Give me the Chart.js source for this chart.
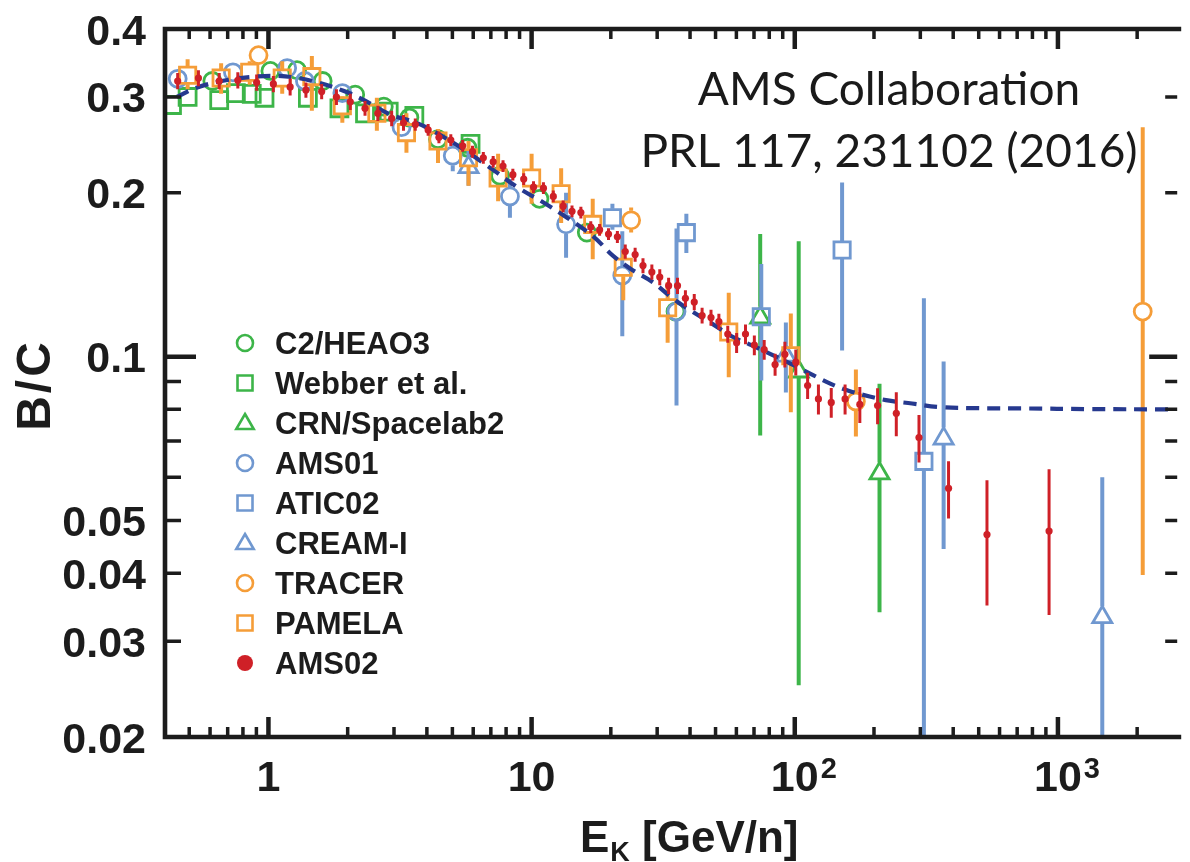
<!DOCTYPE html>
<html>
<head>
<meta charset="utf-8">
<title>B/C ratio</title>
<script src="https://cdn.jsdelivr.net/npm/chart.js"></script>
<style>
  html, body { margin: 0; padding: 0; background: #fff; overflow: hidden; }
  #wrap { width: 1190px; height: 862px; }
</style>
</head>
<body>
<div id="wrap"><canvas id="bcChart" width="1190" height="862"></canvas></div>
<script>
// ---- data: kinetic energy per nucleon [GeV/n] and B/C ratio ----
const ams02E = [0.452, 0.542, 0.650, 0.765, 0.902, 1.044, 1.209, 1.388, 1.593, 1.813,
  2.046, 2.328, 2.604, 2.939, 3.260, 3.614, 4.044, 4.445, 4.931, 5.469,
  5.962, 6.554, 7.144, 7.787, 8.487, 9.333, 10.17, 11.09, 12.09, 13.18,
  14.24, 15.39, 16.78, 18.13, 19.60, 21.18, 22.69, 24.74, 26.50, 28.64,
  30.69, 33.16, 35.84, 38.41, 41.50, 44.45, 48.05, 51.48, 55.64, 60.12,
  64.97, 70.21, 76.53, 84.18, 91.72, 100.9, 111.9, 123.0, 137.6, 155.3,
  176.7, 206.4, 243.1, 296.5, 384.0, 537.5, 925.4];
const ams02BC = [0.321, 0.325, 0.321, 0.322, 0.319, 0.317, 0.313, 0.309, 0.307, 0.300,
  0.294, 0.286, 0.280, 0.274, 0.269, 0.267, 0.261, 0.253, 0.250, 0.244,
  0.238, 0.232, 0.228, 0.224, 0.216, 0.212, 0.205, 0.204, 0.197, 0.189,
  0.185, 0.184, 0.173, 0.171, 0.168, 0.166, 0.156, 0.154, 0.147, 0.143,
  0.140, 0.135, 0.135, 0.128, 0.126, 0.119, 0.118, 0.116, 0.110, 0.106,
  0.110, 0.105, 0.103, 0.0967, 0.101, 0.0977, 0.0885, 0.0836, 0.0824, 0.0836,
  0.0817, 0.0813, 0.0787, 0.0710, 0.0573, 0.0471, 0.0478];
const ams02Err = [0.011, 0.011, 0.011, 0.011, 0.011, 0.011, 0.011, 0.010, 0.010, 0.010,
  0.010, 0.009, 0.009, 0.009, 0.009, 0.007, 0.0065, 0.0063, 0.0063, 0.0061,
  0.0060, 0.0058, 0.0057, 0.0056, 0.0054, 0.0053, 0.0051, 0.0051, 0.0049, 0.0047,
  0.0046, 0.0046, 0.0043, 0.0043, 0.0042, 0.0042, 0.0047, 0.0046, 0.0047, 0.0046,
  0.0048, 0.0046, 0.0046, 0.0044, 0.0043, 0.0040, 0.0040, 0.0039, 0.0040, 0.0045,
  0.0046, 0.0044, 0.0043, 0.0045, 0.0055, 0.0054, 0.0049, 0.0053, 0.0052, 0.0053,
  0.0062, 0.0062, 0.0073, 0.0071, 0.0069, 0.0122, 0.0143];

const heaoE = [0.612, 1.017, 1.284, 1.607, 2.136, 2.743, 3.432, 4.408, 5.709, 7.588, 10.71, 16.21, 35.23];
const heaoBC = [0.321, 0.335, 0.336, 0.321, 0.303, 0.288, 0.275, 0.251, 0.242, 0.215, 0.195, 0.169, 0.121];

const webberE = [0.430, 0.493, 0.650, 0.752, 0.864, 0.966, 1.412, 1.861, 2.328, 2.864, 3.584, 5.861];
const webberBC = [0.290, 0.300, 0.296, 0.305, 0.304, 0.299, 0.299, 0.286, 0.280, 0.282, 0.277, 0.246];

const crnE = [73.9, 103.5, 209.9];
const crnBC = [0.118, 0.0939, 0.0610];
const crnLow = [0.0716, 0.0249, 0.0339];
const crnHigh = [0.168, 0.163, 0.0892];

const ams01E = [0.452, 0.733, 1.178, 1.376, 1.909, 3.204, 5.016, 8.272, 13.52, 22.11, 35.53];
const ams01BC = [0.324, 0.333, 0.339, 0.321, 0.305, 0.264, 0.234, 0.197, 0.175, 0.141, 0.121];
const ams01Low = [0.316, 0.325, 0.331, 0.313, 0.296, 0.255, 0.219, 0.180, 0.152, 0.109, 0.0813];
const ams01High = [0.332, 0.341, 0.347, 0.329, 0.314, 0.273, 0.249, 0.212, 0.200, 0.170, 0.172];

const aticE = [20.28, 38.73, 74.6, 151.3, 309.5];
const aticBC = [0.180, 0.169, 0.1184, 0.157, 0.0642];
const aticLow = [0.171, 0.155, 0.0904, 0.1026, 0.015];
const aticHigh = [0.191, 0.183, 0.148, 0.209, 0.128];

const creamE = [5.758, 92.5, 367.8, 1474];
const creamBC = [0.223, 0.1004, 0.0707, 0.0332];
const creamLow = [0.206, 0.0859, 0.0443, 0.015];
const creamHigh = [0.239, 0.1155, 0.0980, 0.0600];

const tracerE = [0.917, 23.89, 170.7, 2100];
const tracerBC = [0.358, 0.178, 0.0827, 0.121];
const tracerLow = [0.344, 0.169, 0.0713, 0.0397];
const tracerHigh = [0.372, 0.188, 0.0947, 0.264];

const pamelaE = [0.493, 0.661, 0.849, 1.128, 1.462, 1.909, 2.582, 3.345, 4.408, 5.758,
  7.459, 10.0, 12.95, 17.07, 22.30, 32.88, 56.12, 96.6];
const pamelaBC = [0.329, 0.325, 0.333, 0.325, 0.327, 0.289, 0.280, 0.258, 0.249, 0.232,
  0.213, 0.213, 0.1992, 0.175, 0.146, 0.123, 0.111, 0.1004];
const pamelaLow = [0.310, 0.304, 0.316, 0.304, 0.283, 0.269, 0.260, 0.237, 0.227, 0.206,
  0.193, 0.191, 0.176, 0.151, 0.127, 0.106, 0.0916, 0.0790];
const pamelaHigh = [0.352, 0.346, 0.349, 0.349, 0.357, 0.301, 0.299, 0.280, 0.262, 0.249,
  0.236, 0.236, 0.222, 0.195, 0.157, 0.137, 0.131, 0.120];

// propagation model curve (dashed)
const modelE = [0.4485, 0.533, 0.690, 0.894, 1.090, 1.296, 1.539, 1.926, 2.308, 2.888,
  3.646, 4.332, 5.612, 7.268, 8.863, 10.90, 13.64, 17.22, 20.46, 24.31,
  28.88, 34.32, 40.78, 48.46, 57.58, 68.42, 81.31, 96.6, 114.8, 136.4,
  162.1, 192.6, 228.8, 279.0, 352.3, 497.3, 765.6, 1284, 2790];
const modelBC = [0.300, 0.312, 0.322, 0.327, 0.328, 0.325, 0.319, 0.308, 0.296, 0.279,
  0.269, 0.258, 0.239, 0.219, 0.2045, 0.193, 0.180, 0.166, 0.153, 0.144,
  0.137, 0.128, 0.121, 0.115, 0.109, 0.105, 0.101, 0.097, 0.093, 0.0892,
  0.0864, 0.0845, 0.0830, 0.0820, 0.0808, 0.0804, 0.0803, 0.0801, 0.0800];

// axes
const xMin = 0.4045, xMax = 2790;
const yMin = 0.02, yMax = 0.4;
const xTickValues = [1, 10, 100, 1000];
const xTickLabels = [['1', ''], ['10', ''], ['10', '2'], ['10', '3']];
const yTickValues = [0.4, 0.3, 0.2, 0.1, 0.05, 0.04, 0.03, 0.02];
const yTickLabels = ['0.4', '0.3', '0.2', '0.1', '0.05', '0.04', '0.03', '0.02'];

const GREEN = '#3db549', BLUE = '#7098d0', ORANGE = '#f59d38', RED = '#cf2027';
const NAVY = '#26398f', INK = '#1c1c1c';
const BOLD = '"Liberation Sans", Arial, Helvetica, sans-serif';

function toPoints(xs, ys) {
  return xs.map((x, i) => ({ x: x, y: ys[i] }));
}

function openMarker(label, xs, ys, color, style, radius, low, high, gapTop, gapBottom, order) {
  return {
    label: label,
    data: toPoints(xs, ys),
    pointStyle: style,
    pointRadius: radius,
    pointHoverRadius: radius,
    backgroundColor: 'rgba(0,0,0,0)',
    borderColor: color,
    pointBorderWidth: 2.8,
    errLow: low,
    errHigh: high,
    barColor: color,
    barWidth: 4,
    gapTop: gapTop,
    gapBottom: gapBottom,
    order: order
  };
}

const datasets = [
  {
    label: 'AMS02',
    data: toPoints(ams02E, ams02BC),
    pointStyle: 'circle',
    pointRadius: 3.6,
    pointHoverRadius: 3.6,
    backgroundColor: RED,
    borderColor: RED,
    pointBorderWidth: 0,
    errLow: ams02BC.map((v, i) => v - ams02Err[i]),
    errHigh: ams02BC.map((v, i) => v + ams02Err[i]),
    barColor: RED,
    barWidth: 3,
    gapTop: 0,
    gapBottom: 0,
    order: 0
  },
  {
    label: 'model',
    data: toPoints(modelE, modelBC),
    showLine: true,
    pointRadius: 0,
    borderColor: NAVY,
    borderWidth: 4.2,
    borderDash: [13, 8],
    tension: 0.4,
    fill: false,
    order: 1
  },
  openMarker('PAMELA', pamelaE, pamelaBC, ORANGE, 'rect', 11.5, pamelaLow, pamelaHigh, 9, 9, 2),
  openMarker('TRACER', tracerE, tracerBC, ORANGE, 'circle', 8.5, tracerLow, tracerHigh, 9.5, 9.5, 3),
  openMarker('CREAM-I', creamE, creamBC, BLUE, 'triangle', 11, creamLow, creamHigh, 11, 6, 4),
  openMarker('ATIC02', aticE, aticBC, BLUE, 'rect', 11.5, aticLow, aticHigh, 9, 9, 5),
  openMarker('AMS01', ams01E, ams01BC, BLUE, 'circle', 8.5, ams01Low, ams01High, 9.5, 9.5, 6),
  openMarker('CRN/Spacelab2', crnE, crnBC, GREEN, 'triangle', 11, crnLow, crnHigh, 11, 6, 7),
  openMarker('Webber et al.', webberE, webberBC, GREEN, 'rect', 12, null, null, 0, 0, 8),
  openMarker('C2/HEAO3', heaoE, heaoBC, GREEN, 'circle', 8.5, null, null, 0, 0, 9)
];

// vertical error bars, drawn under each dataset's own markers
const errorBars = {
  id: 'errorBars',
  beforeDatasetDraw(chart, args) {
    const ds = chart.data.datasets[args.index];
    if (!ds.errLow) return;
    const { ctx, chartArea: a, scales } = chart;
    ctx.save();
    ctx.beginPath();
    ctx.rect(a.left, a.top, a.right - a.left, a.bottom - a.top);
    ctx.clip();
    ctx.strokeStyle = ds.barColor;
    ctx.lineWidth = ds.barWidth;
    ds.data.forEach((p, i) => {
      const px = scales.x.getPixelForValue(p.x);
      const py = scales.y.getPixelForValue(p.y);
      const top = scales.y.getPixelForValue(ds.errHigh[i]);
      const bot = scales.y.getPixelForValue(ds.errLow[i]);
      ctx.beginPath();
      if (top < py - ds.gapTop) {
        ctx.moveTo(px, py - ds.gapTop);
        ctx.lineTo(px, top);
      }
      if (bot > py + ds.gapBottom) {
        ctx.moveTo(px, py + ds.gapBottom);
        ctx.lineTo(px, bot);
      }
      ctx.stroke();
    });
    ctx.restore();
  }
};

// legend glyphs
function drawGlyph(ctx, style, x, y, color, filled) {
  ctx.save();
  ctx.strokeStyle = color;
  ctx.fillStyle = color;
  ctx.lineWidth = 2.6;
  ctx.beginPath();
  if (style === 'circle') {
    ctx.arc(x, y, 8, 0, Math.PI * 2);
  } else if (style === 'rect') {
    ctx.rect(x - 7.5, y - 7.5, 15, 15);
  } else {
    ctx.moveTo(x, y - 9);
    ctx.lineTo(x + 8.7, y + 6);
    ctx.lineTo(x - 8.7, y + 6);
    ctx.closePath();
  }
  if (filled) ctx.fill(); else ctx.stroke();
  ctx.restore();
}

const legendRows = [
  ['C2/HEAO3', 'circle', GREEN, false],
  ['Webber et al.', 'rect', GREEN, false],
  ['CRN/Spacelab2', 'triangle', GREEN, false],
  ['AMS01', 'circle', BLUE, false],
  ['ATIC02', 'rect', BLUE, false],
  ['CREAM-I', 'triangle', BLUE, false],
  ['TRACER', 'circle', ORANGE, false],
  ['PAMELA', 'rect', ORANGE, false],
  ['AMS02', 'circle', RED, true]
];

// frame, inward ticks, tick labels, titles, legend and note
const frame = {
  id: 'frame',
  afterDraw(chart) {
    const { ctx, chartArea: a, scales: { x, y } } = chart;
    const right = a.right + 2;
    ctx.save();
    ctx.strokeStyle = INK;
    ctx.lineCap = 'butt';

    // x ticks on top and bottom
    for (let e = -1; e <= 3; e++) {
      for (let m = 1; m <= 9; m++) {
        const v = m * Math.pow(10, e);
        if (v < xMin || v > xMax) continue;
        const px = x.getPixelForValue(v);
        const len = m === 1 ? 20 : 10;
        ctx.lineWidth = m === 1 ? 4.5 : 3.5;
        ctx.beginPath();
        ctx.moveTo(px, a.top);
        ctx.lineTo(px, a.top + len);
        ctx.moveTo(px, a.bottom);
        ctx.lineTo(px, a.bottom - len);
        ctx.stroke();
      }
    }
    // y ticks on left and right
    for (let e = -2; e <= -1; e++) {
      for (let m = 1; m <= 9; m++) {
        const v = m * Math.pow(10, e);
        if (v < yMin - 1e-9 || v > yMax + 1e-9) continue;
        const py = y.getPixelForValue(v);
        const major = (m === 1 && e === -1);
        ctx.lineWidth = major ? 4.5 : 3.5;
        ctx.beginPath();
        ctx.moveTo(a.left, py);
        ctx.lineTo(a.left + (major ? 31 : 16), py);
        ctx.moveTo(right, py);
        ctx.lineTo(right - (major ? 28 : 12), py);
        ctx.stroke();
      }
    }
    // frame
    ctx.lineWidth = 4.6;
    ctx.beginPath();
    ctx.moveTo(right + 4, a.top);
    ctx.lineTo(a.left, a.top);
    ctx.lineTo(a.left, a.bottom);
    ctx.lineTo(right + 4, a.bottom);
    ctx.stroke();

    ctx.fillStyle = INK;
    // y tick labels
    ctx.font = 'bold 43px ' + BOLD;
    ctx.textAlign = 'right';
    ctx.textBaseline = 'alphabetic';
    yTickValues.forEach((v, i) => {
      ctx.fillText(yTickLabels[i], 146, y.getPixelForValue(v) + 15.5);
    });
    // x tick labels, with superscript exponents
    xTickValues.forEach((v, i) => {
      const px = x.getPixelForValue(v);
      const [base, sup] = xTickLabels[i];
      ctx.font = 'bold 43px ' + BOLD;
      ctx.textAlign = 'center';
      ctx.fillText(base, px, 791);
      if (sup) {
        const w = ctx.measureText(base).width;
        ctx.font = 'bold 29px ' + BOLD;
        ctx.textAlign = 'left';
        ctx.fillText(sup, px + w / 2 + 2, 778);
      }
    });

    // axis titles
    ctx.font = 'bold 44px ' + BOLD;
    ctx.textAlign = 'left';
    let tx = 580;
    ctx.fillText('E', tx, 852);
    tx += ctx.measureText('E').width + 1;
    ctx.font = 'bold 27px ' + BOLD;
    ctx.fillText('K', tx, 861);
    tx += ctx.measureText('K').width;
    ctx.font = 'bold 44px ' + BOLD;
    ctx.fillText(' [GeV/n]', tx, 852);

    ctx.save();
    ctx.translate(50, 385);
    ctx.rotate(-Math.PI / 2);
    ctx.textAlign = 'center';
    ctx.font = 'bold 48px ' + BOLD;
    ctx.letterSpacing = '3px';
    ctx.fillText('B/C', 0, 0);
    ctx.restore();

    // legend
    legendRows.forEach((row, i) => {
      const ly = 343 + i * 40;
      drawGlyph(ctx, row[1], 245, ly, row[2], row[3]);
      ctx.fillStyle = INK;
      ctx.font = 'bold 31px ' + BOLD;
      ctx.textAlign = 'left';
      ctx.fillText(row[0], 275, ly + 11);
    });

    // publication note
    ctx.font = '46px Lato, "Open Sans", sans-serif';
    ctx.textAlign = 'center';
    ctx.fillStyle = '#1a1a1a';
    ctx.fillText('AMS Collaboration', 889, 105);
    ctx.fillText('PRL 117, 231102 (2016)', 889, 167);
    ctx.restore();
  }
};

new Chart(document.getElementById('bcChart'), {
  type: 'scatter',
  data: { datasets: datasets },
  options: {
    responsive: false,
    animation: false,
    devicePixelRatio: 1,
    events: [],
    layout: { padding: { left: 165, top: 29, right: 0, bottom: 125 } },
    scales: {
      x: { type: 'logarithmic', min: xMin, max: xMax, display: false },
      y: { type: 'logarithmic', min: yMin, max: yMax, display: false }
    },
    plugins: {
      legend: { display: false },
      tooltip: { enabled: false }
    }
  },
  plugins: [errorBars, frame]
});
</script>
</body>
</html>
